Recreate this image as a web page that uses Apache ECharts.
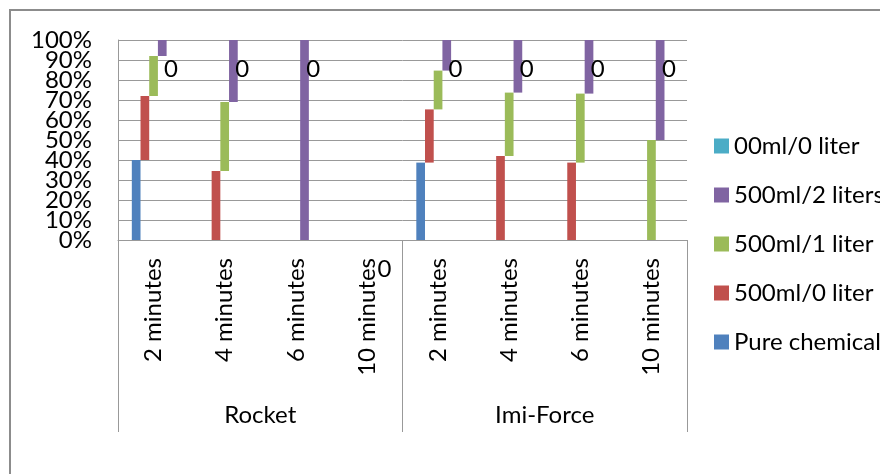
<!DOCTYPE html>
<html>
<head>
<meta charset="utf-8">
<script src="https://cdn.jsdelivr.net/npm/echarts@6/dist/echarts.min.js"></script>
<style>
html,body{margin:0;padding:0;background:#fff;}
#chart{width:880px;height:474px;}
</style>
</head>
<body>
<div id="chart"></div>
<script>
// Categories and tick labels
const categories = ['2 minutes','4 minutes','6 minutes','10 minutes','2 minutes','4 minutes','6 minutes','10 minutes'];
const groups = ['Rocket','Imi-Force'];
const yTicks = [0,10,20,30,40,50,60,70,80,90,100];

// Series values (percent of the 100% stack)
const pureChemical = [40, 0, 0, 0, 38.7, 0, 0, 0];
const ml500_0liter = [32, 34.5, 0, 0, 26.6, 42, 38.7, 0];
const ml500_1liter = [20, 34.5, 0, 0, 19.4, 31.7, 34.5, 50];
const ml500_2liters = [8, 31, 100, 0, 15.3, 26.3, 26.8, 50];
const ml00_0liter = [0, 0, 0, 0, 0, 0, 0, 0];

const FONT = 'Lato';
const defs = [
  {name:'Pure chemical', data: pureChemical, color:'#4F81BD'},
  {name:'500ml/0 liter', data: ml500_0liter, color:'#C0504D'},
  {name:'500ml/1 liter', data: ml500_1liter, color:'#9BBB59'},
  {name:'500ml/2 liters', data: ml500_2liters, color:'#8064A2'},
  {name:'00ml/0 liter', data: ml00_0liter, color:'#4BACC6', label:true}
];

const BW = 8.7;
let cum = categories.map(() => 0);
const series = [];
defs.forEach((d, i) => {
  series.push({
    type:'bar', stack:'s'+i, data: cum.slice(), barWidth: BW, barGap:'0%',
    itemStyle:{color:'rgba(0,0,0,0)'}, silent:true, legendHoverLink:false
  });
  const s = {
    type:'bar', name:d.name, stack:'s'+i, data:d.data, barWidth: BW, barGap:'0%',
    itemStyle:{color:d.color}
  };
  if (d.label) {
    s.clip = false;
    s.label = {show:true, position:['50%', 29], align:'center', verticalAlign:'middle',
      formatter: p => String(p.value), fontSize:24, fontFamily:FONT, color:'#000'};
  }
  series.push(s);
  cum = cum.map((c, j) => Math.round((c + d.data[j]) * 1000) / 1000);
});

const yMin = yTicks[0], yMax = yTicks[yTicks.length-1];
function yAxisDef(parity, main) {
  return {
    type:'value', min:yMin, max:yMax, interval:10, position:'left',
    axisLine:{show:main, lineStyle:{color:'#999', width:1}},
    axisTick:{show:false},
    splitLine:{show:main, lineStyle:{color:'#999', width:1}},
    axisLabel:{
      formatter: v => (Math.round(v / 10) % 2 === parity) ? v + '%' : '',
      margin:26, fontSize:24, fontFamily:FONT, color:'#000',
      showMinLabel:true, showMaxLabel:true
    }
  };
}

const chart = echarts.init(document.getElementById('chart'), null, {renderer:'canvas'});
chart.setOption({
  animation:false,
  backgroundColor:'#fff',
  textStyle:{fontFamily:FONT},
  graphic:[{
    type:'rect', shape:{x:10, y:10, width:900, height:500},
    style:{fill:'none', stroke:'#8c8c8c', lineWidth:2}, silent:true
  }],
  grid:{left:118, right:193, top:40, bottom:234, containLabel:false},
  legend:{
    orient:'vertical', left:709, top:129, itemWidth:15, itemHeight:15, itemGap:25, icon:'rect',
    data:['00ml/0 liter','500ml/2 liters','500ml/1 liter','500ml/0 liter','Pure chemical'],
    textStyle:{fontSize:24, fontFamily:FONT, color:'#000'},
    selectedMode:false
  },
  xAxis:[{
    type:'category', data:categories, position:'bottom',
    axisLine:{show:true, lineStyle:{color:'#999', width:1}},
    axisTick:{show:false},
    axisLabel:{rotate:90, interval:0, margin:18, fontSize:24, fontFamily:FONT, color:'#000'}
  },{
    type:'category', data:groups, position:'bottom',
    axisLine:{show:false},
    axisTick:{show:true, length:192, lineStyle:{color:'#999', width:1}},
    axisLabel:{interval:0, margin:163, fontSize:24, fontFamily:FONT, color:'#000'}
  }],
  yAxis:[yAxisDef(0, true), yAxisDef(1, false)],
  series: series
});
</script>
</body>
</html>
